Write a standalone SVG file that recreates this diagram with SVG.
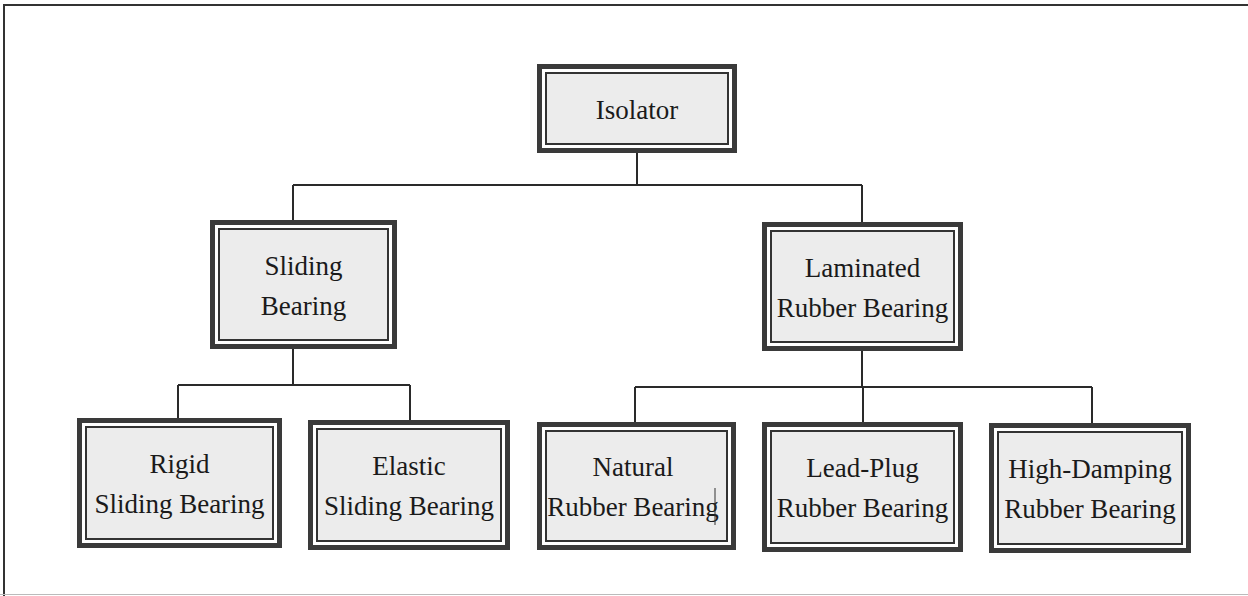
<svg xmlns="http://www.w3.org/2000/svg" width="1248" height="596" viewBox="0 0 1248 596">
<style>
.o{fill:#fff;stroke:#3a3a3a;stroke-width:5}
.i{fill:#ececec;stroke:#333;stroke-width:2}
.t{font-family:"Liberation Serif","Times New Roman",serif;font-size:27px;fill:#1a1a1a;text-anchor:middle}
.c{fill:none;stroke:#2a2a2a;stroke-width:2}
</style>
<rect width="1248" height="596" fill="#fff"/>
<g id="frame">
<path d="M4,596 V5 H1248" fill="none" stroke="#333" stroke-width="2"/>
<line x1="0" y1="594.5" x2="1248" y2="594.5" stroke="#bbb" stroke-width="1"/>
</g>
<g id="connectors">
<path class="c" d="M637,153 V185 M293,185 H862 M293,185 V220 M862,185 V222"/>
<path class="c" d="M293,349 V385 M178,385 H410 M178,385 V418 M410,385 V420"/>
<path class="c" d="M862,351 V387 M635,387 H1092 M635,387 V422 M863,387 V422 M1092,387 V423"/>
</g>
<g id="isolator">
<rect class="o" x="539.5" y="66.5" width="195" height="84"/>
<rect class="i" x="546" y="73" width="182" height="71"/>
<text class="t" x="637" y="119">Isolator</text>
</g>
<g id="sliding">
<rect class="o" x="212.5" y="222.5" width="182" height="124"/>
<rect class="i" x="219" y="229" width="169" height="111"/>
<text class="t" x="303.5" y="275">Sliding</text>
<text class="t" x="303.5" y="315">Bearing</text>
</g>
<g id="laminated">
<rect class="o" x="764.5" y="224.5" width="196" height="124"/>
<rect class="i" x="771" y="231" width="183" height="111"/>
<text class="t" x="862.5" y="277">Laminated</text>
<text class="t" x="862.5" y="317">Rubber Bearing</text>
</g>
<g id="rigid">
<rect class="o" x="79.5" y="420.5" width="200" height="125"/>
<rect class="i" x="86" y="427" width="187" height="112"/>
<text class="t" x="179.5" y="473">Rigid</text>
<text class="t" x="179.5" y="513">Sliding Bearing</text>
</g>
<g id="elastic">
<rect class="o" x="310.5" y="422.5" width="197" height="125"/>
<rect class="i" x="317" y="429" width="184" height="112"/>
<text class="t" x="409" y="475">Elastic</text>
<text class="t" x="409" y="515">Sliding Bearing</text>
</g>
<g id="natural">
<rect class="o" x="539.5" y="424.5" width="194" height="123"/>
<rect class="i" x="546" y="431" width="181" height="110"/>
<text class="t" x="633" y="476">Natural</text>
<text class="t" x="633" y="516">Rubber Bearing</text>
<line x1="715" y1="488" x2="715" y2="525" stroke="#333" stroke-width="1"/>
</g>
<g id="leadplug">
<rect class="o" x="764.5" y="424.5" width="196" height="125"/>
<rect class="i" x="771" y="431" width="183" height="112"/>
<text class="t" x="862.5" y="477">Lead-Plug</text>
<text class="t" x="862.5" y="517">Rubber Bearing</text>
</g>
<g id="highdamping">
<rect class="o" x="991.5" y="425.5" width="197" height="125"/>
<rect class="i" x="998" y="432" width="184" height="112"/>
<text class="t" x="1090" y="478">High-Damping</text>
<text class="t" x="1090" y="518">Rubber Bearing</text>
</g>
</svg>
